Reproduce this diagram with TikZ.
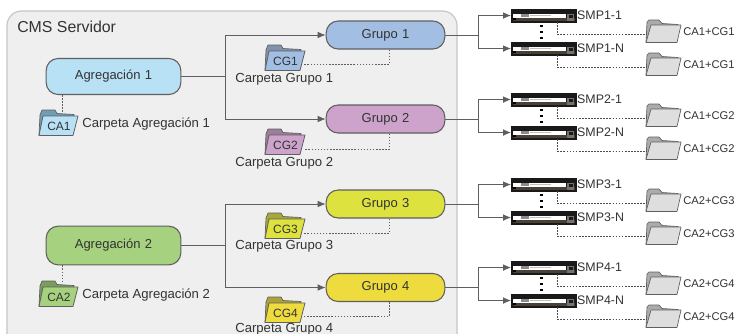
\documentclass[tikz,border=0pt]{standalone}
\usepackage{fontspec}
\setmainfont{Liberation Sans}
\usetikzlibrary{calc,arrows.meta}
\definecolor{txt}{HTML}{333333}
\definecolor{edge}{HTML}{5F5F5F}
\definecolor{panel}{HTML}{EFEFEF}
\definecolor{panelb}{HTML}{C6C6C6}
\definecolor{cA}{HTML}{B9E1F6}\definecolor{cAd}{HTML}{6F9DB5}
\definecolor{cB}{HTML}{A6D17F}\definecolor{cBd}{HTML}{7A9C5C}
\definecolor{cC}{HTML}{A3BEE3}\definecolor{cCd}{HTML}{8093AE}
\definecolor{cD}{HTML}{CDA3CB}\definecolor{cDd}{HTML}{9C7D9A}
\definecolor{cE}{HTML}{DDE23F}\definecolor{cEd}{HTML}{A5A83C}
\definecolor{cF}{HTML}{EEDC3F}\definecolor{cFd}{HTML}{ADA23A}
\definecolor{cG}{HTML}{DEDEDE}\definecolor{cGd}{HTML}{ABABAB}
\definecolor{srvb}{HTML}{4A4136}
\tikzset{
  x=0.75pt,y=-0.75pt,
  lbl/.style={font=\fontsize{9.85pt}{11pt}\selectfont,text=txt,inner sep=0pt,anchor=west},
  smp/.style={font=\fontsize{9.3pt}{11pt}\selectfont,text=txt,inner sep=0pt,anchor=west},
  boxnode/.style={draw=edge,line width=0.8pt,rounded corners=9pt,minimum height=21pt,text=txt,
    font=\fontsize{9.75pt}{11pt}\selectfont,inner sep=0pt,text width=0pt,align=center},
  conn/.style={draw=edge,line width=0.62pt},
  arr/.style={conn,-{Latex[length=6pt,width=5pt]}},
  dots/.style={draw=edge,line width=0.6pt,dash pattern=on 1.2pt off 1.1pt},
  dotsrv/.style={draw=black!70,line width=0.55pt,dash pattern=on 1.3pt off 1pt},
  srv/.style={fill=black!90,draw=black!90,line width=0.2pt,minimum width=48.5pt,minimum height=9.6pt,inner sep=0pt},
}
% folder: name, left x, top y, width, back, front, text
\newcommand{\folderpic}[7]{%
  \begin{scope}[shift={(#2,#3)}]
    \filldraw[draw=edge,fill=#5,line width=0.5pt,line join=round]
      (0,26) -- (1,6) -- (3,1) -- (16,1) -- (18,4.5) -- (#4-4,5.5) -- (#4-4,10) -- (#4-6,26) -- cycle;
    \filldraw[draw=edge,fill=#6,line width=0.6pt,line join=round]
      (4,7) -- (#4,7) -- (#4-5,26.5) -- (0,26.5) -- cycle;
    \node[inner sep=0pt,font=\fontsize{9pt}{10pt}\selectfont,text=txt] (#1) at (#4/2+0.5,17) {#7};
  \end{scope}}
% grey folder
\newcommand{\greyfolder}[3]{%
  \begin{scope}[shift={(#2,#3)}]
    \filldraw[draw=edge,fill=cGd,line width=0.5pt,line join=round]
      (0,22) -- (1,2) -- (3,0) -- (13,0) -- (16,3.5) -- (32,4.5) -- (32,9) -- (30,22) -- cycle;
    \filldraw[draw=edge,fill=cG,line width=0.5pt,line join=round]
      (5,5) -- (35,5) -- (31,22.5) -- (0,22.5) -- cycle;
    \coordinate (#1) at (0.5,14);
  \end{scope}}
% server
\newcommand{\server}[3]{%
  \node[srv,anchor=north west] (#1) at (#2,#3) {};
  \begin{scope}[shift={(#2,#3)}]
    \fill[srvb] (1.5,9) rectangle (64,12.3);
    \fill[white] (2,4.5) rectangle (55,8.5);
    \fill[black!45] (10,5.3) rectangle (18,8);
    \fill[black!25] (19,5.5) rectangle (40,6.2);
    \fill[black] (2,9) rectangle (5,11);
    \fill[black!55] (56,5) rectangle (63,11.5);
    \fill[black!90] (58,5.5) rectangle (62,8.5);
  \end{scope}}
\begin{document}
\begin{tikzpicture}
\path[use as bounding box,clip] (0,0) rectangle (737,333);
\fill[white] (0,0) rectangle (737,333);
\draw[draw=panelb,fill=panel,line width=0.9pt,rounded corners=11pt] (7,11) rectangle (457,350);
\node[lbl,font=\fontsize{11.9pt}{13pt}\selectfont] (title) at (17,27) {CMS Servidor};

\node[boxnode,fill=cA,minimum width=101pt,minimum height=27pt] (A1) at (113.5,76.5) {\makebox[0pt]{Agregación 1}};
\node[boxnode,fill=cB,minimum width=101pt,minimum height=29pt] (A2) at (113.5,245.5) {\makebox[0pt]{Agregación 2}};
\node[boxnode,fill=cC,minimum width=89pt] (G1) at (385.5,35) {\makebox[0pt]{Grupo 1}};
\node[boxnode,fill=cD,minimum width=89pt] (G2) at (385.5,119) {\makebox[0pt]{Grupo 2}};
\node[boxnode,fill=cE,minimum width=89pt] (G3) at (385.5,204) {\makebox[0pt]{Grupo 3}};
\node[boxnode,fill=cF,minimum width=89pt] (G4) at (385.5,287.5) {\makebox[0pt]{Grupo 4}};

% left folders
\folderpic{CA1}{39}{109}{39}{cAd}{cA}{CA1}
\folderpic{CA2}{39}{280}{39}{cBd}{cB}{CA2}
\folderpic{CG1}{265}{44}{40}{cCd}{cC}{CG1}
\folderpic{CG2}{265}{128}{40}{cDd}{cD}{CG2}
\folderpic{CG3}{265}{212}{40}{cEd}{cE}{CG3}
\folderpic{CG4}{265}{296}{40}{cFd}{cF}{CG4}

\node[lbl] (LA1) at (82,124.5) {Carpeta Agregación 1};
\node[lbl] (LA2) at (82,295.5) {Carpeta Agregación 2};
\node[lbl] (LG1) at (235,79) {Carpeta Grupo 1};
\node[lbl] (LG2) at (235,163) {Carpeta Grupo 2};
\node[lbl] (LG3) at (235,246) {Carpeta Grupo 3};
\node[lbl] (LG4) at (235,329) {Carpeta Grupo 4};

% aggregation to group connectors
\coordinate (J1) at (225,76.5);
\coordinate (J2) at (225,245.5);
\draw[conn] (A1.east) -- (J1);
\draw[conn] (A2.east) -- (J2);
\draw[arr] (J1) |- (G1.west);
\draw[arr] (J1) |- (G2.west);
\draw[arr] (J2) |- (G3.west);
\draw[arr] (J2) |- (G4.west);

% dotted links inside panel
\draw[dots] ($(A1.south west)+(17,0)$) -- ++(0,17);
\draw[dots] ($(A2.south west)+(17,0)$) -- ++(0,16);
\draw[dots] ($(G1.south west)+(64,0)$) |- (304,64);
\draw[dots] ($(G2.south west)+(64,0)$) |- (304,149);
\draw[dots] ($(G3.south west)+(64,0)$) |- (304,233);
\draw[dots] ($(G4.south west)+(64,0)$) |- (304,316);

% right-hand side
\foreach \g/\ya/\yb/\yj/\n/\ca [count=\i] in {
  G1/9/42/35/1/CA1+CG1,
  G2/93/126/119/2/CA1+CG2,
  G3/178/211/204/3/CA2+CG3,
  G4/261/294/287.5/4/CA2+CG4}{
  \server{S\i a}{511}{\ya}
  \server{S\i b}{511}{\yb}
  \coordinate (K\i) at (478,\yj);
  \draw[conn] (\g.east) -- (K\i);
  \draw[arr] (K\i) |- (S\i a.west);
  \draw[arr] (K\i) |- (S\i b.west);
  \node[smp] (L\i a) at ($(S\i a.east)+(1,0)$) {SMP\n-1};
  \node[smp] (L\i b) at ($(S\i b.east)+(1,0)$) {SMP\n-N};
  \node[fill=black,minimum size=1.9pt,inner sep=0pt] (p\i a) at ($(S\i a.south west)+(30.5,4)$) {};
  \node[fill=black,minimum size=1.9pt,inner sep=0pt] (p\i b) at ($(S\i a.south west)+(30.5,10)$) {};
  \node[fill=black,minimum size=1.9pt,inner sep=0pt] (p\i c) at ($(S\i a.south west)+(30.5,16)$) {};
  \greyfolder{F\i a}{646}{\ya+11}
  \greyfolder{F\i b}{646}{\yb+11}
  \node[smp,font=\fontsize{8.4pt}{10pt}\selectfont] (C\i a) at (683,\ya+23) {\ca};
  \node[smp,font=\fontsize{8.4pt}{10pt}\selectfont] (C\i b) at (683,\yb+23) {\ca};
  \draw[dotsrv] ($(S\i a.south west)+(46,0)$) |- (F\i a);
  \draw[dotsrv] ($(S\i b.south west)+(46,0)$) |- (F\i b);
}
\end{tikzpicture}
\end{document}
